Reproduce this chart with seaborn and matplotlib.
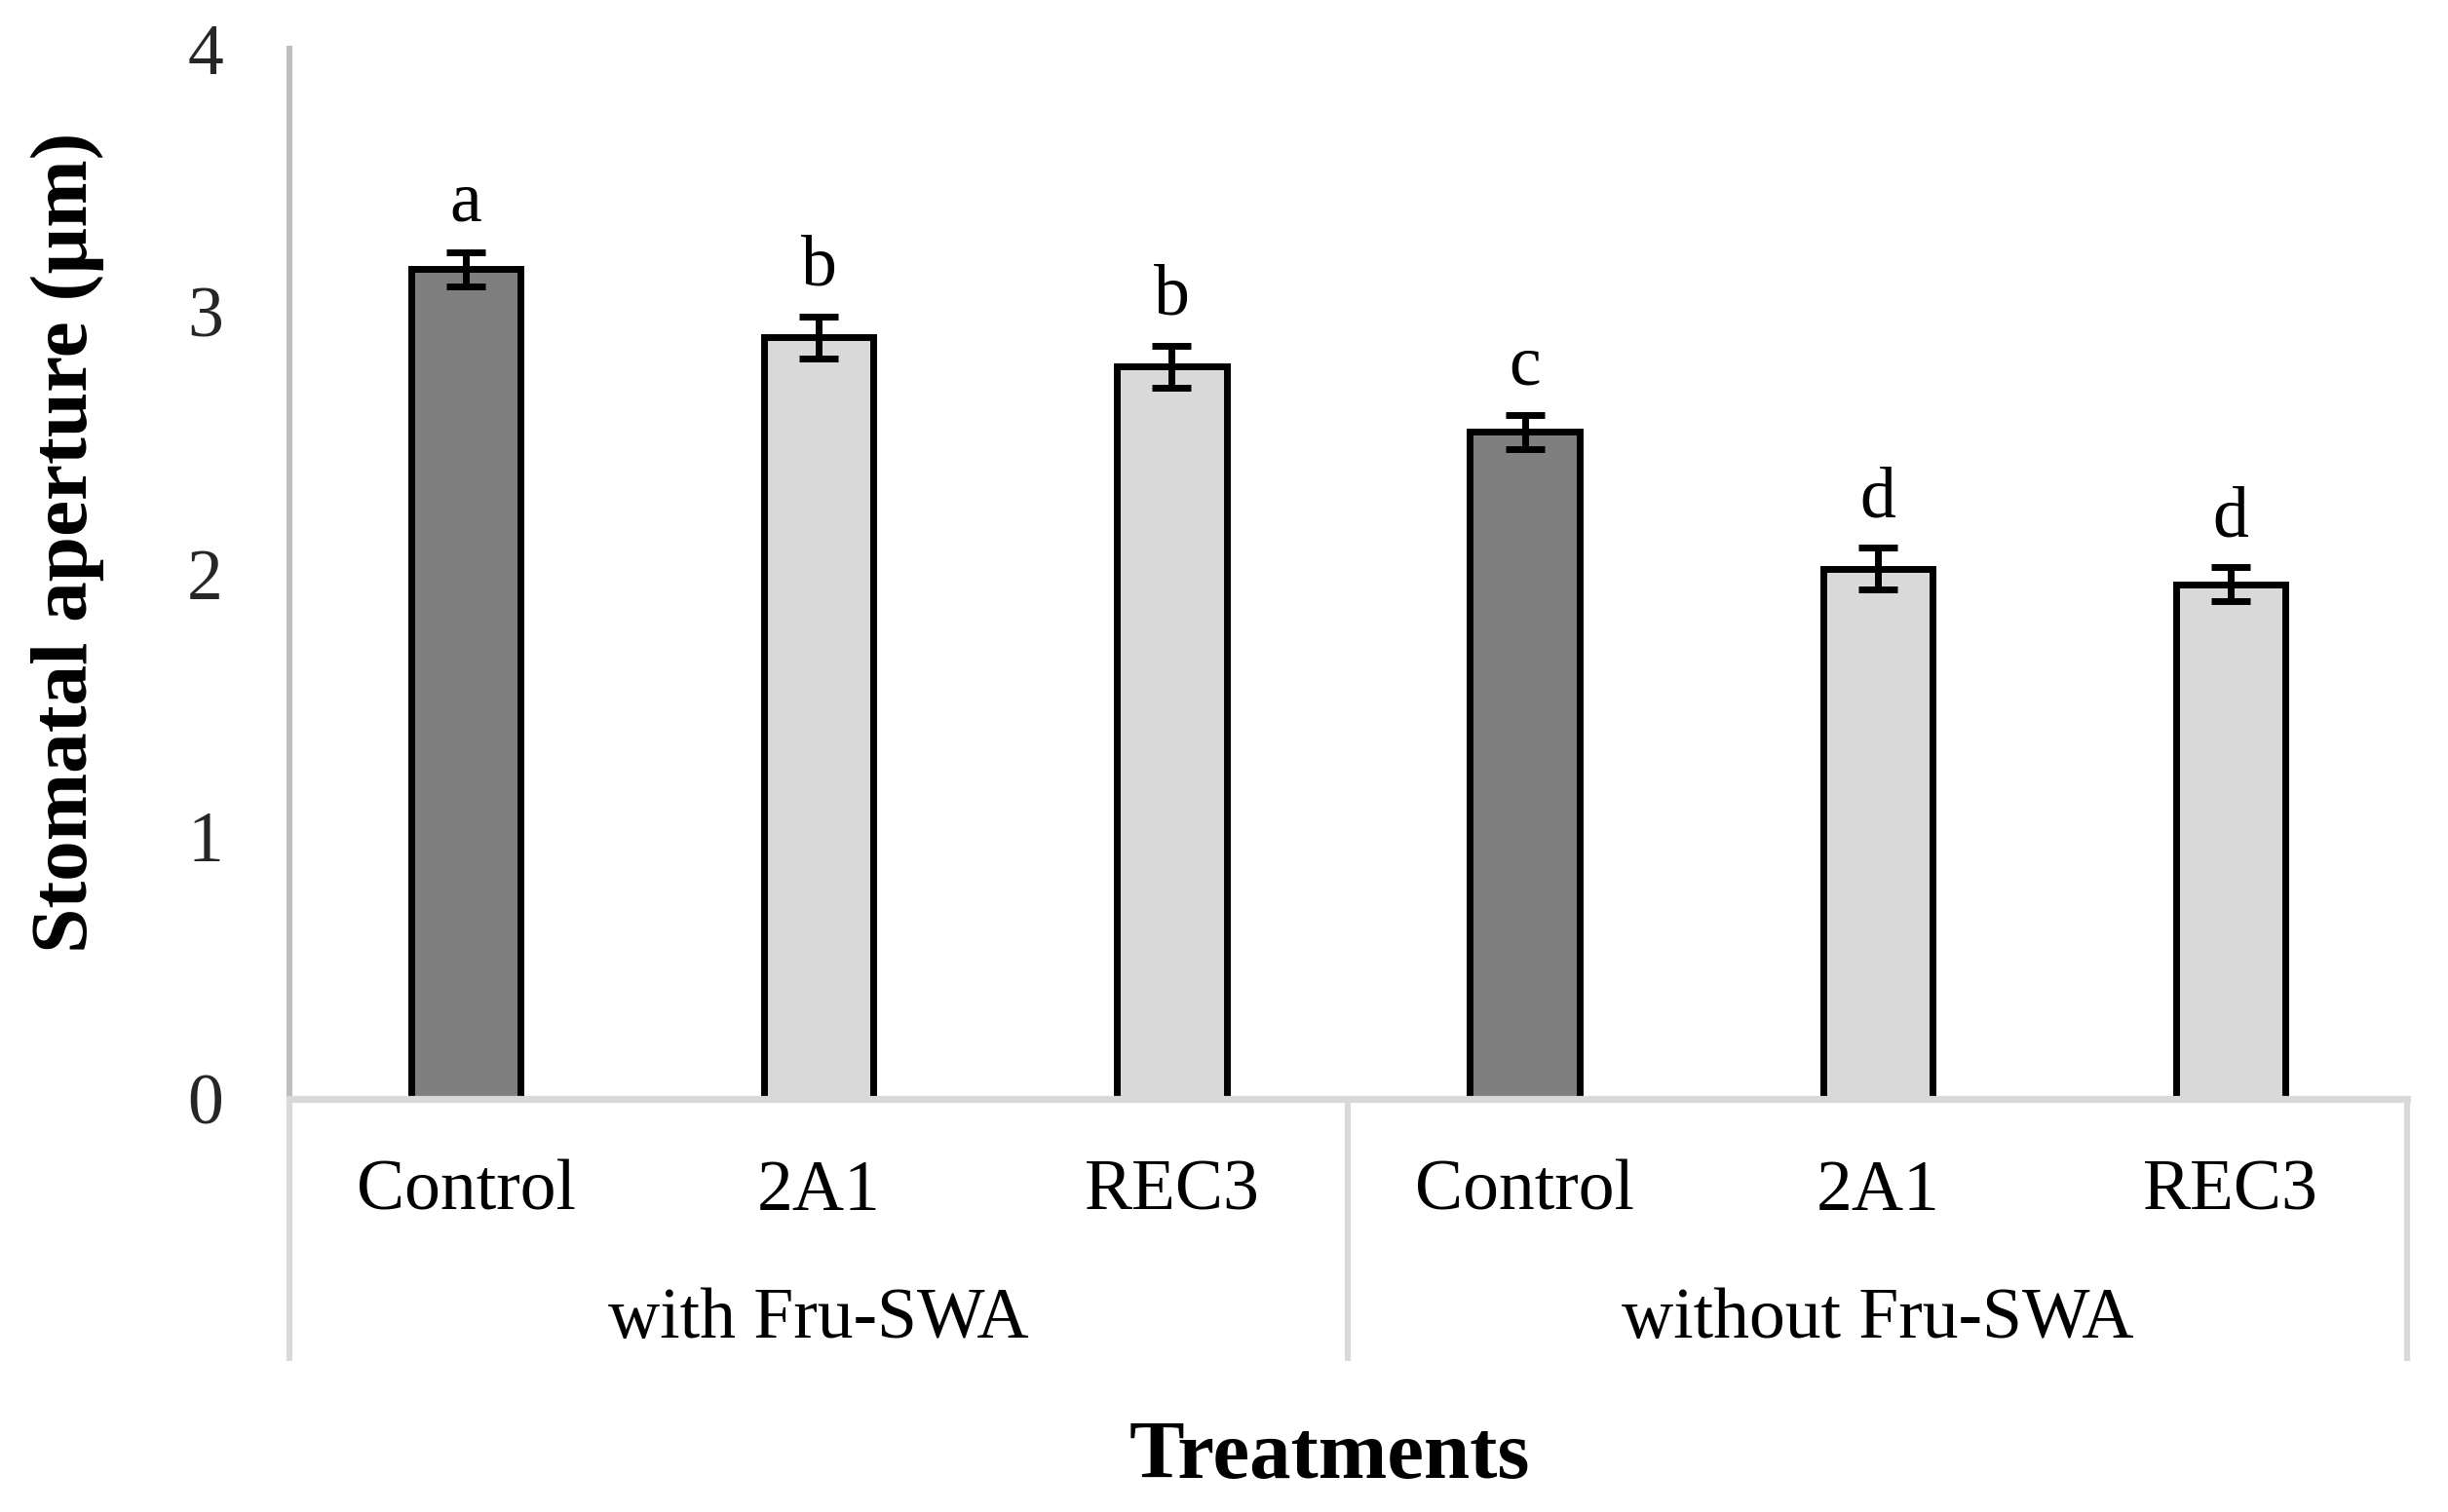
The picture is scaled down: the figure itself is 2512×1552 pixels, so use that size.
import numpy as np
import pandas as pd
import matplotlib
matplotlib.use("Agg")
import matplotlib.pyplot as plt
import matplotlib.transforms as mtransforms
import seaborn as sns

# # # # # data # # # # #

GROUPS = ["with Fru-SWA", "without Fru-SWA"]  # treatment groups (lower label row)
STRAINS = ["Control", "2A1", "REC3"]  # strains within each group (upper label row)
APERTURE = [3.16, 2.90, 2.79, 2.54, 2.02, 1.96]  # mean stomatal aperture (um)
APERTURE_SE = [0.065, 0.08, 0.08, 0.065, 0.08, 0.065]  # error bar half length
LETTERS = ["a", "b", "b", "c", "d", "d"]  # significance letters
Y_TICKS = [0, 1, 2, 3, 4]

# # # # # style # # # # #

BAR_COLORS = {"Control": "#7F7F7F", "2A1": "#D9D9D9", "REC3": "#D9D9D9"}
FIG_W, FIG_H, DPI = 2512, 1552, 200

sns.set_theme(style="white")
plt.rcParams["font.family"] = ["Liberation Serif", "DejaVu Serif"]
plt.rcParams["text.color"] = "black"


def fig_y(px):
	# convert a pixel row (from the top) to figure fraction
	return (FIG_H - px) / FIG_H


# # # # # build table # # # # #

df = pd.DataFrame({
	"group": np.repeat(GROUPS, len(STRAINS)),
	"strain": STRAINS * len(GROUPS),
	"aperture": APERTURE,
	"se": APERTURE_SE,
})
df["key"] = df["group"] + " | " + df["strain"]
palette = [BAR_COLORS[s] for s in df["strain"]]

# # # # # plot # # # # #

fig = plt.figure(figsize=(FIG_W / DPI, FIG_H / DPI), dpi=DPI)
ax = fig.add_axes([297 / FIG_W, fig_y(1128), (2470 - 297) / FIG_W, (1128 - 50) / FIG_H])

sns.barplot(data=df, x="key", y="aperture", hue="key", palette=palette, legend=False,
	width=0.31, edgecolor="black", linewidth=2.5, errorbar=None, dodge=False, ax=ax)

# error bars
xpos = np.arange(len(df))
ax.errorbar(xpos, df["aperture"], yerr=df["se"], fmt="none", ecolor="black",
	elinewidth=2.5, capsize=7.2, capthick=2.5, zorder=3)

# significance letters
for i, row in df.iterrows():
	ax.annotate(LETTERS[i], xy=(i, row["aperture"] + row["se"]), xytext=(0, 11.5),
		textcoords="offset points", ha="center", va="baseline", fontsize=26.5)

# axes
ax.set_ylim(0, 4)
ax.set_xlim(-0.5, len(df) - 0.5)
ax.set_yticks(Y_TICKS)
ax.set_yticklabels([str(t) for t in Y_TICKS], fontsize=26.5)
ax.tick_params(axis="y", length=0, pad=24.5)
ax.set_xticks([])
ax.set_xlabel("")
ax.set_ylabel("")
sns.despine(ax=ax, top=True, right=True)
ax.spines["left"].set_color("#BFBFBF")
ax.spines["left"].set_linewidth(2.2)
ax.spines["bottom"].set_color("#D9D9D9")
ax.spines["bottom"].set_linewidth(2.6)

# two-level category labels
trans = mtransforms.blended_transform_factory(ax.transData, fig.transFigure)
for i, row in df.iterrows():
	ax.text(i, fig_y(1242), row["strain"], transform=trans, ha="center", va="baseline", fontsize=26.5)

n_str = len(STRAINS)
for g, name in enumerate(GROUPS):
	ax.text(g * n_str + (n_str - 1) / 2, fig_y(1373), name, transform=trans,
		ha="center", va="baseline", fontsize=26.5)

# group separator lines below the axis
for g in range(len(GROUPS) + 1):
	xs = g * n_str - 0.5
	ax.plot([xs, xs], [fig_y(1128), fig_y(1397)], transform=trans, color="#D9D9D9",
		linewidth=2.2, clip_on=False, solid_capstyle="butt")

# axis titles
fig.text(1364 / FIG_W, fig_y(1517), "Treatments", ha="center", va="baseline",
	fontsize=30.5, fontweight="bold")
fig.text(69 / FIG_W, fig_y(557), "Stomatal aperture (µm)", rotation=90, ha="center",
	va="center", fontsize=30, fontweight="bold")

fig.savefig("out.png", dpi=DPI)
